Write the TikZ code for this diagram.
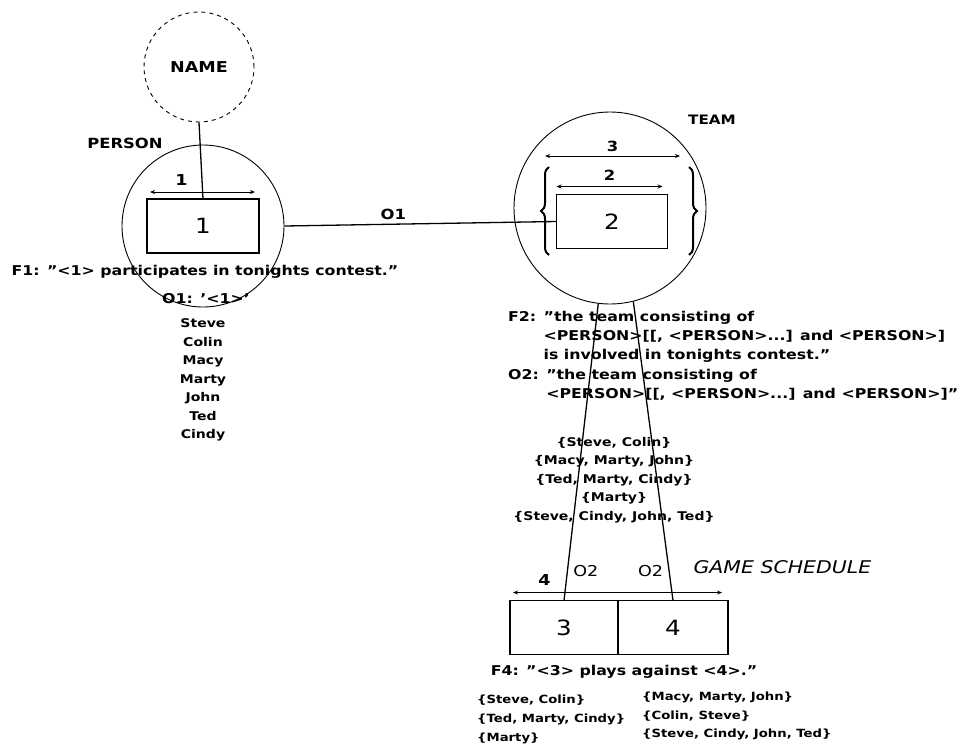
\documentclass[tikz,border=0pt]{standalone}
\usepackage{fontspec}
\setmainfont{DejaVu Sans}[FakeStretch=1.17]
\usetikzlibrary{arrows.meta,positioning,calc,decorations.pathreplacing}
\tikzset{
  objtype/.style ={circle,draw,line width=0.9pt,inner sep=0pt},
  roletype/.style={rectangle,draw,line width=1.6pt,minimum height=54pt,inner sep=0pt,outer sep=0pt,font=\fontsize{21}{21}\selectfont},
  conn/.style    ={line width=1.3pt},
  dim/.style     ={{Stealth[length=5pt,width=4pt]}-{Stealth[length=5pt,width=4pt]},line width=0.8pt},
  lbl/.style     ={font=\fontsize{14}{14}\selectfont\bfseries},
  fact/.style    ={font=\fontsize{13.5}{19}\selectfont\bfseries,align=left,inner sep=0pt},
  pop/.style     ={font=\fontsize{12}{18.5}\selectfont\bfseries,align=center,inner sep=0pt},
  bracket/.style ={decorate,decoration={brace,amplitude=8pt},line width=2pt},
}
\begin{document}
\begin{tikzpicture}[x=1pt,y=-1pt]
  \useasboundingbox (0,0) rectangle (973,753);
  % object types
  \node[objtype,dashed,dash pattern=on 4pt off 4pt,minimum size=110pt,lbl,font=\fontsize{15}{15}\selectfont\bfseries] (name) at (199,67) {NAME};
  \node[objtype,minimum size=162pt] (person) at (203,226) {};
  \node[objtype,minimum size=192pt] (team) at (610,208) {};
  \node[lbl] (personlbl) at (125,143) {PERSON};
  \node[lbl,font=\fontsize{13}{13}\selectfont\bfseries] (teamlbl) at (712,120) {TEAM};
  % roles
  \node[roletype,minimum width=112pt,line width=2pt] (box1) at (203,226) {1};
  \node[roletype,minimum width=111pt,line width=1pt] (box2) at (612,221.5) {2};
  \node[roletype,minimum width=108pt] (box3) at (564,627.5) {3};
  \node[roletype,minimum width=110pt,anchor=west] (box4) at (box3.east) {4};
  \node[font=\fontsize{17.5}{17.5}\selectfont\itshape,anchor=west] (gamelbl) at (690,567) {GAME SCHEDULE};
  % length arrows
  \draw[dim] ($(box1.north west)+(3,-7)$) -- ($(box1.north east)+(-4,-7)$)
        node[pos=0.3,above=3pt,lbl,font=\fontsize{15}{15}\selectfont\bfseries]{1};
  \draw[dim] ($(box2.north west)+(0,-8)$) -- ($(box2.north east)+(-5,-8)$)
        node[midway,above=2pt,lbl]{2};
  \draw[dim] (545,156) -- (680,156) node[midway,above=1pt,lbl]{3};
  \draw[dim] ($(box3.north west)+(3,-8)$) -- ($(box4.north east)+(-6,-8)$)
        node[pos=0.15,above=3pt,lbl,font=\fontsize{15}{15}\selectfont\bfseries]{4};
  % set braces
  \draw[bracket] (549,255) -- (549,167);
  \draw[bracket] (689,167) -- (689,255);
  % connectors
  \draw[conn] (name.south) -- (box1.north);
  \draw[conn] (person.east) -- (box2.west) node[pos=0.4,above=1pt,lbl]{O1};
  \draw[conn] (team.263) -- (box3.north) node[pos=0.9,right=2pt,font=\fontsize{15}{15}\selectfont]{O2};
  \draw[conn] (team.284) -- (box4.north) node[pos=0.9,left=2pt,font=\fontsize{15}{15}\selectfont]{O2};
  % fact types and populations
  \node[fact] (f1) at (205,272) {F1: "<1> participates in tonights contest."};
  \node[fact] (o1) at (206,299) {O1: '<1>'};
  \node[pop] (names) at (203,380) {Steve\\Colin\\Macy\\Marty\\John\\Ted\\Cindy};
  \node[fact,anchor=north west] (f2) at (508,311)
    {F2: "the team consisting of\\\phantom{F2: }<PERSON>[[, <PERSON>...] and <PERSON>]\\\phantom{F2: }is involved in tonights contest."};
  \node[fact,anchor=north west] (o2) at (508,369)
    {O2: "the team consisting of\\\phantom{O2: }<PERSON>[[, <PERSON>...] and <PERSON>]"};
  \node[pop] (teams) at (614,480) {\{Steve, Colin\}\\\{Macy, Marty, John\}\\\{Ted, Marty, Cindy\}\\\{Marty\}\\\{Steve, Cindy, John, Ted\}};
  \node[fact] (f4) at (624,672) {F4: "<3> plays against <4>."};
  \node[pop,font=\fontsize{11.3}{19}\selectfont\bfseries,align=left,anchor=north west] (games3) at (477,695) {\{Steve, Colin\}\\\{Ted, Marty, Cindy\}\\\{Marty\}};
  \node[pop,font=\fontsize{11.3}{18.5}\selectfont\bfseries,align=left,anchor=north west] (games4) at (642,692) {\{Macy, Marty, John\}\\\{Colin, Steve\}\\\{Steve, Cindy, John, Ted\}};
\end{tikzpicture}
\end{document}
